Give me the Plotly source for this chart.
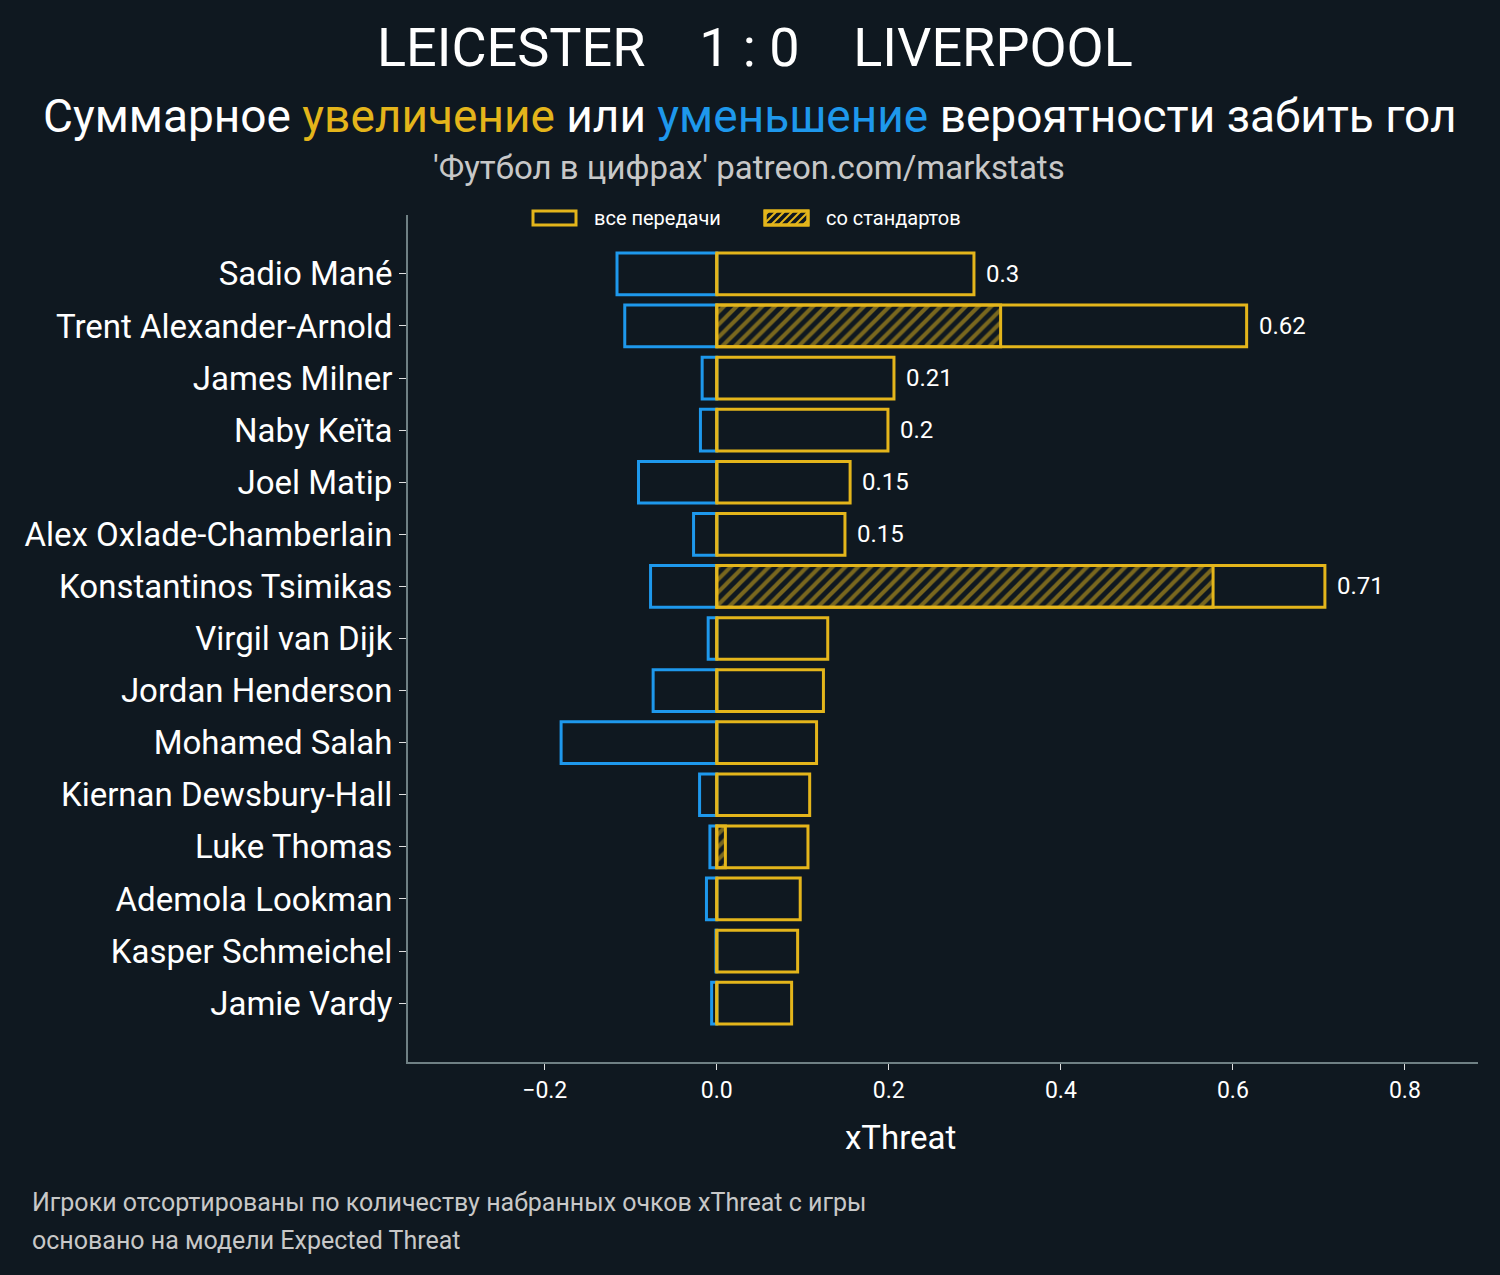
import plotly.graph_objects as go

players = ["Sadio Mané", "Trent Alexander-Arnold", "James Milner", "Naby Keïta",
           "Joel Matip", "Alex Oxlade-Chamberlain", "Konstantinos Tsimikas",
           "Virgil van Dijk", "Jordan Henderson", "Mohamed Salah",
           "Kiernan Dewsbury-Hall", "Luke Thomas", "Ademola Lookman",
           "Kasper Schmeichel", "Jamie Vardy"]
pos_total = [0.299, 0.616, 0.206, 0.199, 0.155, 0.149, 0.707, 0.129, 0.124,
             0.116, 0.108, 0.106, 0.097, 0.094, 0.087]
pos_setpiece = [0.0, 0.330, 0.0, 0.0, 0.0, 0.0, 0.577, 0.0, 0.0,
                0.0, 0.0, 0.010, 0.0, 0.0, 0.0]
neg_total = [-0.116, -0.107, -0.017, -0.019, -0.091, -0.027, -0.077, -0.010,
             -0.074, -0.181, -0.020, -0.008, -0.012, -0.001, -0.006]
value_labels = ["0.3", "0.62", "0.21", "0.2", "0.15", "0.15", "0.71",
                "", "", "", "", "", "", "", ""]
x_ticks = [-0.2, 0.0, 0.2, 0.4, 0.6, 0.8]
legend_labels = ["все передачи", "со стандартов"]

BG = "#0f1820"
YEL = "#e4b51b"
BLU = "#1e98ec"
FONT = "Roboto"

fig = go.Figure()
fig.add_trace(go.Bar(
    y=players, x=neg_total, orientation="h", width=0.8,
    marker=dict(color="rgba(0,0,0,0)", line=dict(color=BLU, width=3)),
    showlegend=False, hoverinfo="x+y"))
fig.add_trace(go.Bar(
    y=players, x=pos_setpiece, orientation="h", width=0.8,
    marker=dict(color=BG, line=dict(color=YEL, width=3),
                pattern=dict(shape="/", fgcolor=YEL, bgcolor=BG, size=9, solidity=0.45)),
    name=legend_labels[1], showlegend=False))
fig.add_trace(go.Bar(
    y=players, x=pos_total, orientation="h", width=0.8,
    marker=dict(color="rgba(0,0,0,0)", line=dict(color=YEL, width=3)),
    name=legend_labels[0], showlegend=False))

for p, v, lab in zip(players, pos_total, value_labels):
    if lab:
        fig.add_annotation(x=v, y=p, text=lab, showarrow=False, xanchor="left",
                           xshift=10, font=dict(family=FONT, size=24, color="#ffffff"))

def py(px):
    return (1062 - px) / 847.0

def pxx(px):
    return (px - 408) / 1070.0

# --- custom legend (keys drawn as decoration) ---
shapes = []
key_x = [533, 765]
for i, kx in enumerate(key_x):
    shapes.append(dict(type="rect", xref="paper", yref="paper",
                       x0=pxx(kx), x1=pxx(kx + 43), y0=py(225), y1=py(211),
                       line=dict(color=YEL, width=3), fillcolor=BG, layer="above"))
    fig.add_annotation(xref="paper", yref="paper", x=pxx(kx + 59), y=py(218),
                       text=legend_labels[i], showarrow=False, xanchor="left",
                       yanchor="middle", font=dict(family=FONT, size=20, color="#ffffff"))
# hatch for set-piece key
hx0, hx1, hy0, hy1 = key_x[1], key_x[1] + 43, 225, 211
path = ""
c = hx0 - 10
while c < hx1:
    xa, ya = c, hy0
    xb, yb = c + 14, hy1
    if xa < hx0:
        ya = hy0 - (hx0 - xa)
        xa = hx0
    if xb > hx1:
        yb = hy1 + (xb - hx1)
        xb = hx1
    path += "M%.5f,%.5f L%.5f,%.5f " % (pxx(xa), py(ya), pxx(xb), py(yb))
    c += 8
shapes.append(dict(type="path", xref="paper", yref="paper", path=path,
                   line=dict(color=YEL, width=2), layer="above"))
shapes.append(dict(type="rect", xref="paper", yref="paper",
                   x0=pxx(hx0), x1=pxx(hx1), y0=py(hy0), y1=py(hy1),
                   line=dict(color=YEL, width=3), fillcolor="rgba(0,0,0,0)", layer="above"))

fig.add_annotation(xref="paper", yref="paper", x=pxx(755), y=py(47),
                   text="LEICESTER    1 : 0    LIVERPOOL", showarrow=False,
                   xanchor="center", yanchor="middle",
                   font=dict(family=FONT, size=54, color="#ffffff"))
fig.add_annotation(xref="paper", yref="paper", x=pxx(750), y=py(116),
                   text=("Суммарное <span style='color:%s'>увеличение</span> или "
                         "<span style='color:%s'>уменьшение</span> вероятности забить гол") % (YEL, BLU),
                   showarrow=False, xanchor="center", yanchor="middle",
                   font=dict(family=FONT, size=46, color="#ffffff"))
fig.add_annotation(xref="paper", yref="paper", x=pxx(749), y=py(168),
                   text="'Футбол в цифрах' patreon.com/markstats", showarrow=False,
                   xanchor="center", yanchor="middle",
                   font=dict(family=FONT, size=33, color="#c8c8c8"))
fig.add_annotation(xref="paper", yref="paper", x=pxx(900), y=py(1137),
                   text="xThreat", showarrow=False,
                   xanchor="center", yanchor="middle",
                   font=dict(family=FONT, size=33, color="#ffffff"))
fig.add_annotation(xref="paper", yref="paper", x=pxx(30), y=py(1202),
                   text="Игроки отсортированы по количеству набранных очков xThreat с игры",
                   showarrow=False, xanchor="left", yanchor="middle",
                   font=dict(family=FONT, size=25, color="#c8c8c8"))
fig.add_annotation(xref="paper", yref="paper", x=pxx(30), y=py(1240),
                   text="основано на модели Expected Threat",
                   showarrow=False, xanchor="left", yanchor="middle",
                   font=dict(family=FONT, size=25, color="#c8c8c8"))

fig.update_layout(
    width=1500, height=1275,
    paper_bgcolor=BG, plot_bgcolor=BG,
    barmode="overlay",
    showlegend=False,
    shapes=shapes,
    margin=dict(l=408, r=22, t=215, b=213),
    font=dict(family=FONT, color="#ffffff"),
    xaxis=dict(range=[-0.359, 0.885], tickvals=x_ticks,
               ticktext=["−0.2" if t < 0 else "%.1f" % t for t in x_ticks],
               showgrid=False, zeroline=False, showline=True, linecolor="#6f8084",
               linewidth=2, ticks="outside", tickcolor="#e0e0e0", ticklen=6, tickwidth=1,
               tickfont=dict(family=FONT, size=23, color="#ffffff")),
    yaxis=dict(type="category", categoryorder="array", categoryarray=players,
               range=[15.13, -1.13], showgrid=False, zeroline=False, showline=True,
               linecolor="#6f8084", linewidth=2, ticks="outside", tickcolor="#e0e0e0",
               ticklen=7, tickwidth=1,
               tickfont=dict(family=FONT, size=33, color="#ffffff")),
)

fig.write_html("out.html", config={"displayModeBar": False},
               post_script="document.body.style.margin='0';document.body.style.padding='0';"
                           "document.body.style.overflow='hidden';"
                           "document.body.style.background='%s';" % BG)
